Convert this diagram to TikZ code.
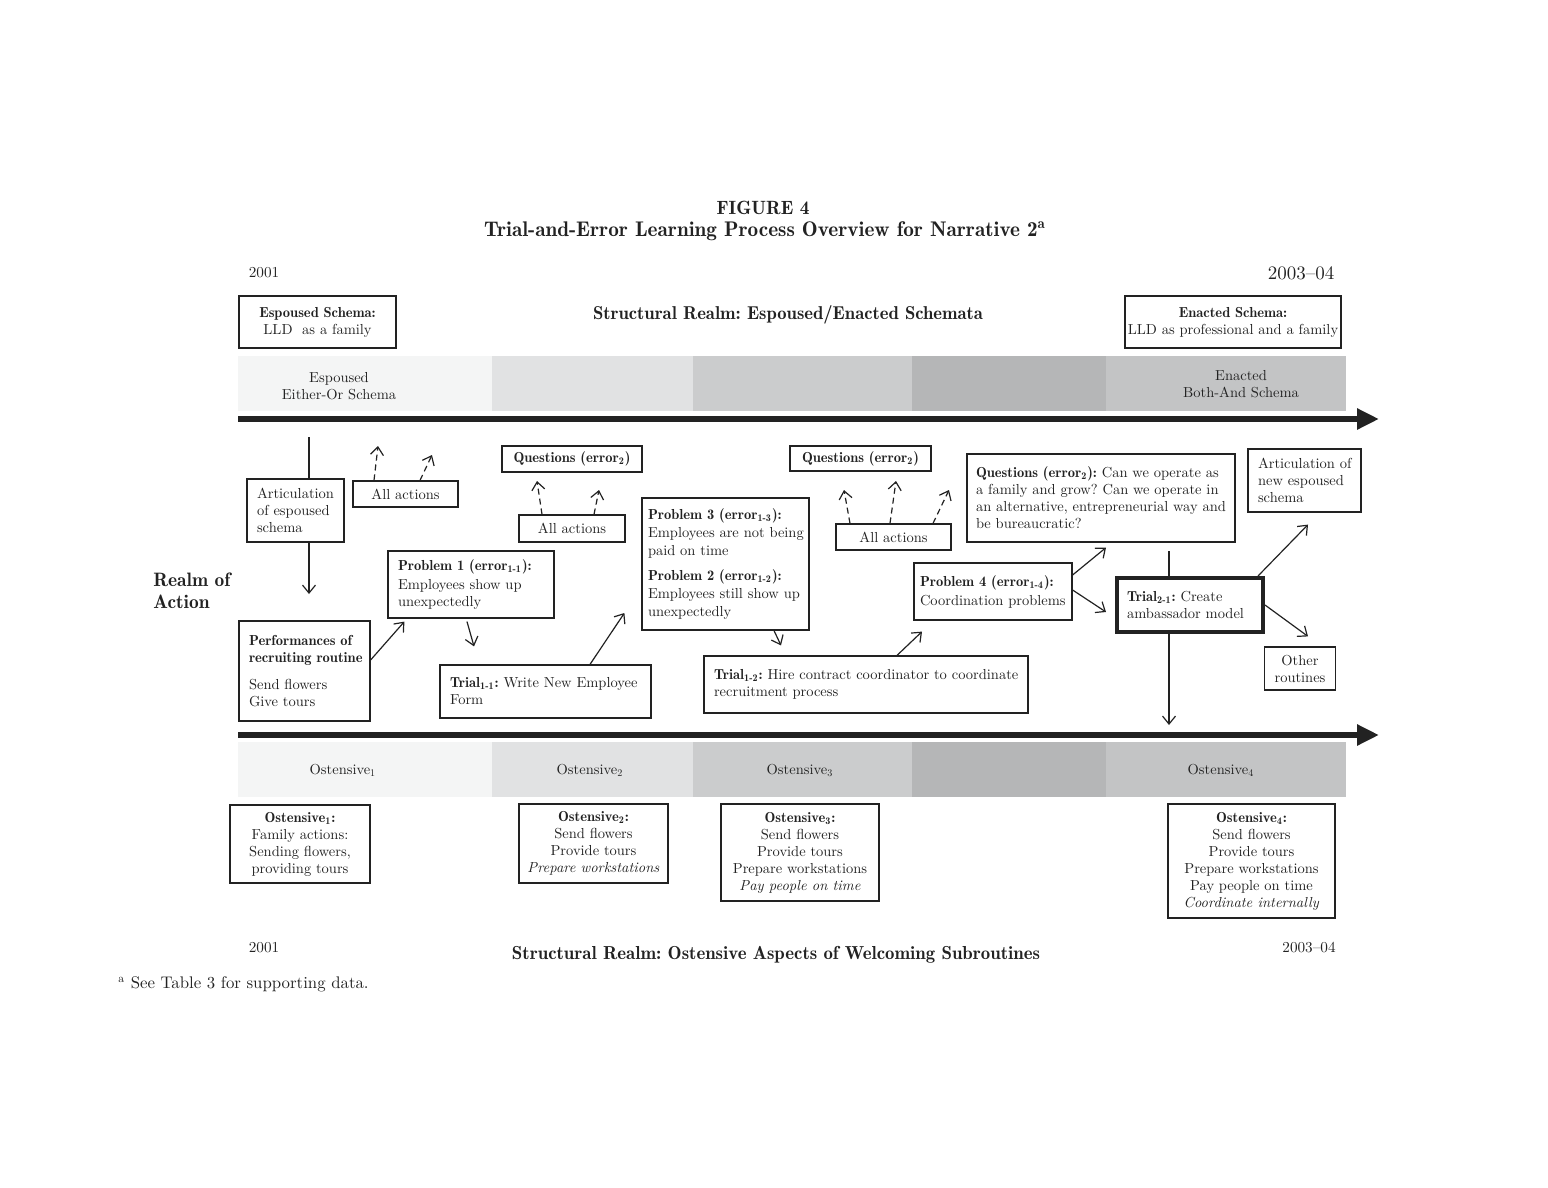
\documentclass[tikz,border=0pt]{standalone}
\usepackage{fontspec}
\setmainfont{lmroman10-regular.otf}[BoldFont=lmromandemi10-regular.otf,ItalicFont=lmroman10-italic.otf,BoldItalicFont=lmromandemi10-oblique.otf]
\usetikzlibrary{arrows.meta}
\definecolor{ink}{HTML}{222222}
\definecolor{sA}{HTML}{F4F5F5}
\definecolor{sB}{HTML}{E1E2E3}
\definecolor{sC}{HTML}{CBCCCD}
\definecolor{sD}{HTML}{B5B6B7}
\definecolor{sE}{HTML}{C3C4C5}
\newcommand\fs{\fontsize{7.25}{8.5}\selectfont}
\newcommand\fyr{\fontsize{7.6}{9}\selectfont}
\frenchspacing
\hyphenpenalty=10000
\exhyphenpenalty=10000
\begin{document}
\begin{tikzpicture}[x=0.5pt,y=-0.5pt,
 every node/.style={text=ink},
 bx/.style={draw=ink,line width=0.6pt,inner xsep=5pt,inner ysep=0pt,font=\fs,align=left,anchor=center},
 cbx/.style={bx,align=center},
 arr/.style={draw=ink,line width=0.6pt,-{Straight Barb[length=4pt,width=6.5pt]}},
 darr/.style={arr,dashed,dash pattern=on 3pt off 2pt},
 bigarr/.style={draw=ink,line width=3pt,-{Triangle[length=11pt,width=10pt]}},
 lbl/.style={font=\fs,align=center,inner sep=0pt},
 hd/.style={font=\fontsize{9.3}{11}\selectfont\bfseries,inner sep=0pt,align=center}]
\useasboundingbox (0,0) rectangle (1548,1188);
% title
\node[hd,font=\fontsize{9.6}{11}\selectfont\bfseries] (fig) at (763,208) {FIGURE 4};
\node[hd,font=\fontsize{10.6}{12}\selectfont\bfseries] (title) at (765,231) {Trial-and-Error Learning Process Overview for Narrative 2\textsuperscript{a}};
% years
\node[inner sep=0pt,font=\fyr] (y1) at (264,273) {2001};
\node[inner sep=0pt,font=\fontsize{9.5}{11}\selectfont] (y2) at (1301,273) {2003--04};
\node[inner sep=0pt,font=\fyr] (y3) at (264,948) {2001};
\node[inner sep=0pt,font=\fyr] (y4) at (1309,948) {2003--04};
% top schemata
\node[cbx,minimum width=78.5pt,minimum height=26pt] (espS) at (317.5,322) {\textbf{Espoused Schema:}\\LLD~~as a family};
\node[hd] (srtop) at (788,315) {Structural Realm: Espoused/Enacted Schemata};
\node[cbx,inner xsep=1pt,minimum width=108pt,minimum height=26pt] (enaS) at (1233,322) {\textbf{Enacted Schema:}\\LLD as professional and a family};
% bands
\fill[sA] (238,356) rectangle (492,411);
\fill[sB] (492,356) rectangle (693,411);
\fill[sC] (693,356) rectangle (912,411);
\fill[sD] (912,356) rectangle (1106,411);
\fill[sE] (1106,356) rectangle (1346,411);
\fill[sA] (238,742) rectangle (492,797);
\fill[sB] (492,742) rectangle (693,797);
\fill[sC] (693,742) rectangle (912,797);
\fill[sD] (912,742) rectangle (1106,797);
\fill[sE] (1106,742) rectangle (1346,797);
\node[lbl] (esp) at (339,386) {Espoused\\Either-Or Schema};
\node[lbl] (ena) at (1241,384) {Enacted\\Both-And Schema};
\node[lbl] (o1) at (343,770) {Ostensive\textsubscript{1}};
\node[lbl] (o2) at (590,770) {Ostensive\textsubscript{2}};
\node[lbl] (o3) at (800,770) {Ostensive\textsubscript{3}};
\node[lbl] (o4) at (1221,770) {Ostensive\textsubscript{4}};
% timelines
\coordinate (t1s) at (238,419); \coordinate (t1e) at (1379,419);
\coordinate (t2s) at (238,735); \coordinate (t2e) at (1379,735);
\draw[bigarr] (t1s) -- (t1e);
\draw[bigarr] (t2s) -- (t2e);
% realm of action
\node[font=\fontsize{9.7}{11}\selectfont\bfseries,align=left,anchor=west,inner sep=0pt] (realm) at (153,591) {Realm of\\Action};
% boxes
\node[bx,text width=38.5pt,minimum height=31.5pt] (artic) at (295.5,510.5) {Articulation\\of~espoused\\schema};
\node[cbx,minimum width=52.5pt,minimum height=13pt] (all1) at (405.5,494) {All actions};
\node[cbx,minimum width=70pt,minimum height=13pt] (q1) at (572,459) {\textbf{Questions (error\textsubscript{2})}};
\node[cbx,minimum width=53pt,minimum height=13.5pt] (all2) at (572,528.5) {All actions};
\node[bx,text width=73pt,minimum height=33.5pt] (prob1) at (471,584.5) {\textbf{Problem~1~(error\textsubscript{1-1}):}\\[1pt]Employees~show~up\\unexpectedly};
\node[bx,text width=55.5pt,minimum height=50pt] (perf) at (304.5,671) {\textbf{Performances~of}\\\textbf{recruiting~routine}\\[5pt]Send~flowers\\Give~tours};
\node[bx,text width=95.5pt,minimum height=26.5pt] (trial11) at (545.5,691.5) {\textbf{Trial\textsubscript{1-1}:} Write~New~Employee\\Form};
\node[bx,inner xsep=3pt,text width=77.5pt,minimum height=66pt,font=\fontsize{7.25}{9}\selectfont] (prob32) at (725.5,564) {\textbf{Problem~3~(error\textsubscript{1-3}):}\\Employees~are~not~being\\paid~on~time\\[3.5pt]\textbf{Problem~2~(error\textsubscript{1-2}):}\\Employees~still~show~up\\unexpectedly};
\node[bx,text width=152pt,minimum height=28.5pt] (trial12) at (866,684.5) {\textbf{Trial\textsubscript{1-2}:}~Hire~contract~coordinator~to~coordinate\\recruitment~process};
\node[cbx,minimum width=70.5pt,minimum height=12.5pt] (q2) at (860.5,458.5) {\textbf{Questions (error\textsubscript{2})}};
\node[cbx,minimum width=57.5pt,minimum height=13pt] (all3) at (893.5,537) {All actions};
\node[bx,inner xsep=4.5pt,text width=125pt,minimum height=44pt] (qbig) at (1101,498) {\textbf{Questions~(error\textsubscript{2}):} Can~we~operate~as\\a~family~and~grow?~Can~we~operate~in\\an~alternative,~entrepreneurial~way~and\\be~bureaucratic?};
\node[bx,inner xsep=3pt,text width=73pt,minimum height=28.5pt] (prob4) at (993,591.5) {\textbf{Problem~4~(error\textsubscript{1-4}):}\\[1pt]Coordination~problems};
\node[bx,line width=2pt,text width=63pt,minimum height=27pt] (trial21) at (1190,605) {\textbf{Trial\textsubscript{2-1}:}~Create\\ambassador~model};
\node[bx,text width=46.5pt,minimum height=31.5pt] (artnew) at (1304.5,480.5) {Articulation~of\\new~espoused\\schema};
\node[cbx,minimum width=35pt,minimum height=21.5pt] (other) at (1300,668.5) {Other\\routines};
% ostensive boxes
\node[cbx,minimum width=70pt,minimum height=39pt] (ost1) at (300,844) {\textbf{Ostensive\textsubscript{1}:}\\Family actions:\\Sending flowers,\\providing tours};
\node[cbx,inner xsep=1pt,minimum width=74.5pt,minimum height=39.5pt] (ost2) at (593.5,843.5) {\textbf{Ostensive\textsubscript{2}:}\\Send flowers\\Provide tours\\\textit{Prepare workstations}};
\node[cbx,inner xsep=1pt,minimum width=79pt,minimum height=48.5pt] (ost3) at (800,852.5) {\textbf{Ostensive\textsubscript{3}:}\\Send flowers\\Provide tours\\Prepare workstations\\\textit{Pay people on time}};
\node[cbx,inner xsep=1pt,minimum width=83.5pt,minimum height=57pt] (ost4) at (1251.5,861) {\textbf{Ostensive\textsubscript{4}:}\\Send flowers\\Provide tours\\Prepare workstations\\Pay people on time\\\textit{Coordinate internally}};
\node[hd,font=\fontsize{9.4}{11}\selectfont\bfseries] (srbot) at (776,955) {Structural Realm: Ostensive Aspects of Welcoming Subroutines};
\node[anchor=west,inner sep=0pt,font=\fontsize{8.4}{10}\selectfont] (foot) at (118,984) {\textsuperscript{a} See Table 3 for supporting data.};
% connectors
\coordinate (v1top) at (309,437);
\coordinate (v1tip) at (309,594);
\draw[draw=ink,line width=0.6pt] (v1top) -- (v1top |- artic.north);
\draw[arr] (v1top |- artic.south) -- (v1tip);
\coordinate (d1) at (378,446); \coordinate (d2) at (432,455);
\coordinate (d3) at (537,481); \coordinate (d4) at (599,490);
\coordinate (d5) at (844,490); \coordinate (d6) at (896,481); \coordinate (d7) at (949,490);
\draw[darr] ([xshift=-15.75pt]all1.north) -- (d1);
\draw[darr] ([xshift=7.25pt]all1.north) -- (d2);
\draw[darr] ([xshift=-15pt]all2.north) -- (d3);
\draw[darr] ([xshift=11pt]all2.north) -- (d4);
\draw[darr] ([xshift=-21.75pt]all3.north) -- (d5);
\draw[darr] ([xshift=-1.75pt]all3.north) -- (d6);
\draw[darr] ([xshift=19.75pt]all3.north) -- (d7);
\draw[arr] ([yshift=5.5pt]perf.east) -- ([xshift=8.5pt,yshift=-1.5pt]prob1.south west);
\draw[arr] ([xshift=-2pt,yshift=-1.5pt]prob1.south) -- ([xshift=-35.75pt,yshift=9pt]trial11.north);
\draw[arr] ([xshift=22.25pt]trial11.north) -- ([xshift=-8.5pt,yshift=-24.5pt]prob32.west);
\draw[arr] ([xshift=24.25pt]prob32.south) -- ([xshift=-42.5pt,yshift=5pt]trial12.north);
\draw[arr] ([xshift=15.5pt]trial12.north) -- ([xshift=-35.5pt,yshift=-5.5pt]prob4.south);
\draw[arr] ([yshift=8.25pt]prob4.east) -- ([xshift=2.5pt,yshift=-2.5pt]qbig.south);
\draw[arr] ([yshift=0.75pt]prob4.east) -- ([xshift=-4.5pt,yshift=-3.5pt]trial21.west);
\coordinate (v2top) at (1169,551);
\coordinate (v2tip) at (1169,725);
\draw[draw=ink,line width=0.6pt] (v2top) -- (v2top |- trial21.north);
\draw[arr] (v2top |- trial21.south) -- (v2tip);
\draw[arr] ([xshift=-3.5pt]trial21.north east) -- ([xshift=1.75pt,yshift=-6pt]artnew.south);
\draw[arr] (trial21.east) -- ([xshift=4pt,yshift=5pt]other.north);
\end{tikzpicture}
\end{document}
